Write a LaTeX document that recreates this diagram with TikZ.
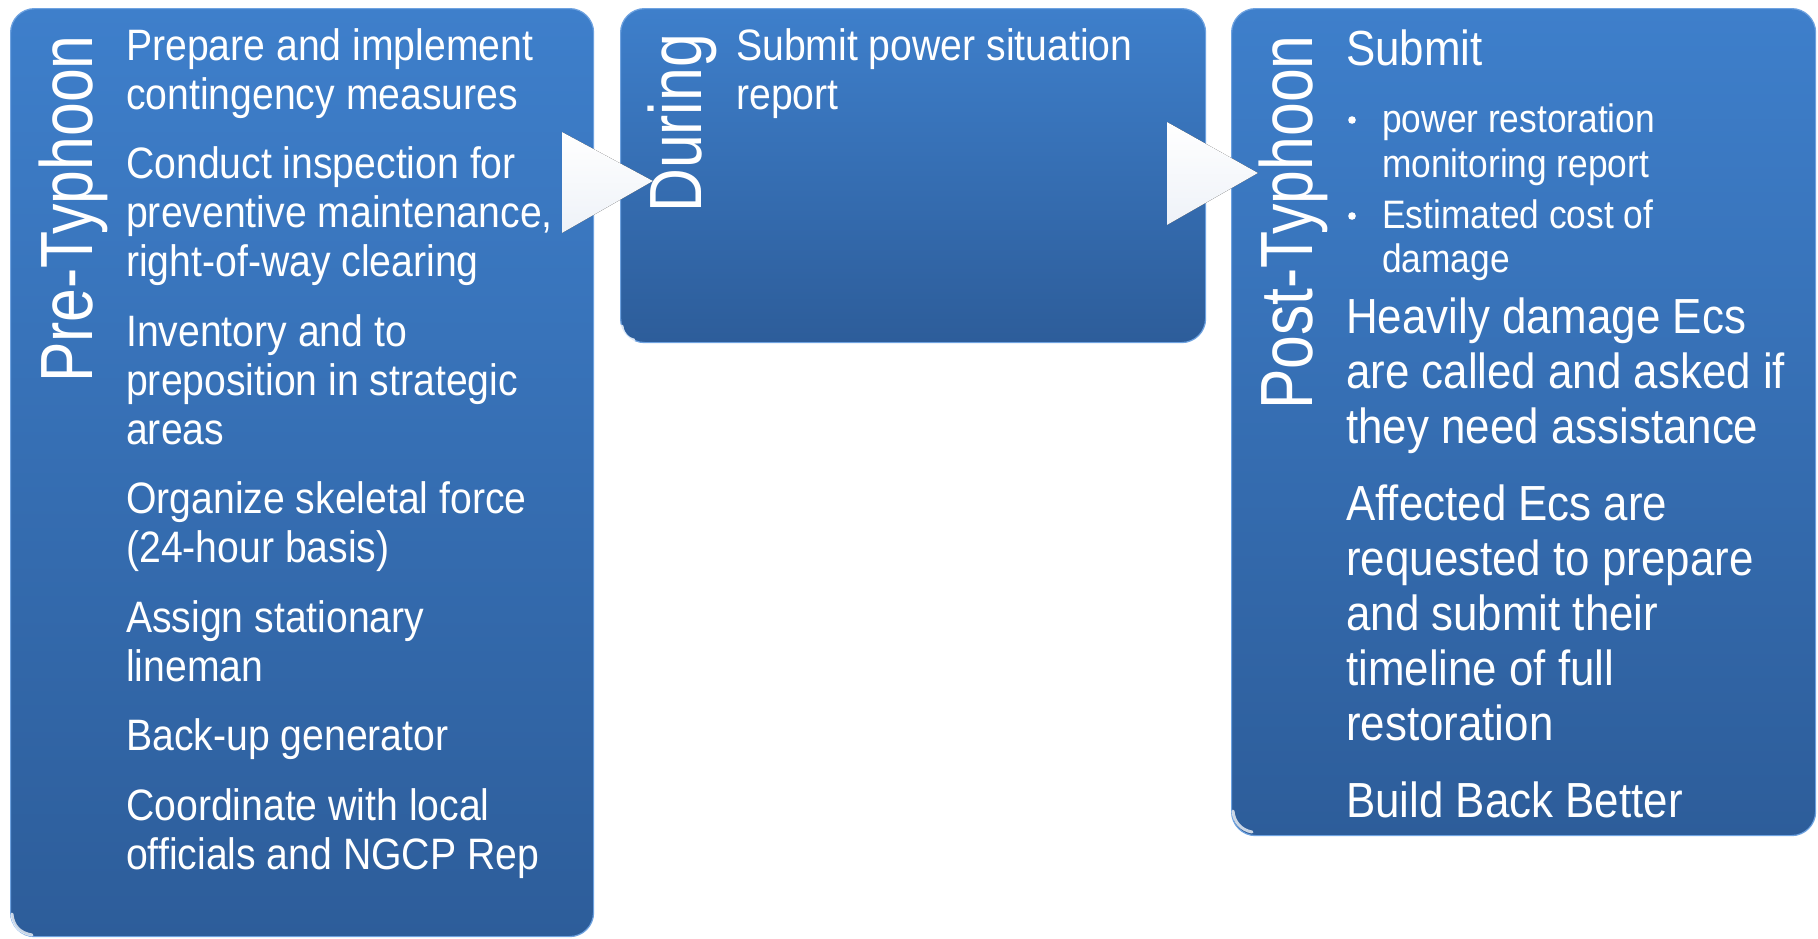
\documentclass[tikz,border=0pt]{standalone}
\usepackage{fontspec}
\setmainfont{Liberation Sans}
\newfontfamily\bodyfont{Liberation Sans}[FakeStretch=0.89]
\newfontfamily\labfont{Liberation Sans}[FakeStretch=0.82]
\definecolor{boxtop}{RGB}{62,127,203}
\definecolor{boxbot}{RGB}{45,93,154}
\definecolor{boxedge}{RGB}{110,162,224}
\definecolor{arrbot}{RGB}{238,242,248}
\tikzset{
  phase/.style={rounded corners=24pt, top color=boxtop, bottom color=boxbot, draw=boxedge, line width=1.2pt, anchor=north west, inner sep=0pt},
  lab/.style={text=white, font=\labfont\fontsize{74}{80}\selectfont, rotate=90, anchor=base west, inner sep=0pt},
  txt/.style={text=white, font=\bodyfont\fontsize{44}{49}\selectfont, anchor=base west, inner sep=0pt},
  txtb/.style={text=white, font=\bodyfont\fontsize{49.3}{55}\selectfont, anchor=base west, inner sep=0pt},
  txts/.style={text=white, font=\bodyfont\fontsize{39.7}{45}\selectfont, anchor=base west, inner sep=0pt},
  arr/.style={top color=white, bottom color=arrbot, draw=none},
  glint/.style={white, line width=3pt, opacity=.75, line cap=round},
}
\begin{document}
\begin{tikzpicture}[x=1pt,y=-1pt]
\useasboundingbox (0,0) rectangle (1818,938);
\fill[white] (0,0) rectangle (1818,938);

% boxes
\node[phase, minimum width=583pt, minimum height=928pt] (b1) at (10,8) {};
\node[phase, minimum width=585pt, minimum height=334pt] (b2) at (620,8) {};
\node[phase, minimum width=584pt, minimum height=827pt] (b3) at (1231,8) {};

% glints
\draw[glint] (12,914) .. controls (13,926) and (20,933) .. (32,935);
\draw[glint] (622,326) .. controls (623,334) and (627,339) .. (634,340);
\draw[glint] (1233,811) .. controls (1234,822) and (1241,830) .. (1252,832);

% arrows
\fill[arr] (562,132) -- (653,181) -- (562,233) -- cycle;
\fill[arr] (1167,122) -- (1258,173) -- (1167,225) -- cycle;

% vertical labels
\node[lab] (l1) at (92,383) {Pre-Typhoon};
\node[lab] (l2) at (701,213) {During};
\node[lab] (l3) at (1312,410) {Post-Typhoon};

% box 1 text
\node[txt] (a1)  at (126,60)    {Prepare and implement};
\node[txt] (a2)  at (126,109)   {contingency measures};
\node[txt] (a3)  at (126,178.5) {Conduct inspection for};
\node[txt] (a4)  at (126,227.5) {preventive maintenance,};
\node[txt] (a5)  at (126,276.5) {right-of-way clearing};
\node[txt] (a6)  at (126,346)   {Inventory and to};
\node[txt] (a7)  at (126,395)   {preposition in strategic};
\node[txt] (a8)  at (126,444)   {areas};
\node[txt] (a9)  at (126,513.5) {Organize skeletal force};
\node[txt] (a10) at (126,562.5) {(24-hour basis)};
\node[txt] (a11) at (126,632)   {Assign stationary};
\node[txt] (a12) at (126,681)   {lineman};
\node[txt] (a13) at (126,750.5) {Back-up generator};
\node[txt] (a14) at (126,820)   {Coordinate with local};
\node[txt] (a15) at (126,869)   {officials and NGCP Rep};

% box 2 text
\node[txt] (d1) at (736,60)  {Submit power situation};
\node[txt] (d2) at (736,109) {report};

% box 3 text
\node[txtb] (c1) at (1346,65) {Submit};
\fill[white] (1352,120) circle (3.8);
\fill[white] (1352,216) circle (3.8);
\node[txts] (s1) at (1382,132) {power restoration};
\node[txts] (s2) at (1382,177) {monitoring report};
\node[txts] (s3) at (1382,228) {Estimated cost of};
\node[txts] (s4) at (1382,272) {damage};
\node[txtb] (c2) at (1346,333) {Heavily damage Ecs};
\node[txtb] (c3) at (1346,388) {are called and asked if};
\node[txtb] (c4) at (1346,443) {they need assistance};
\node[txtb] (c5) at (1346,520) {Affected Ecs are};
\node[txtb] (c6) at (1346,575) {requested to prepare};
\node[txtb] (c7) at (1346,630) {and submit their};
\node[txtb] (c8) at (1346,685) {timeline of full};
\node[txtb] (c9) at (1346,740) {restoration};
\node[txtb] (c10) at (1346,817) {Build Back Better};
\end{tikzpicture}
\end{document}
